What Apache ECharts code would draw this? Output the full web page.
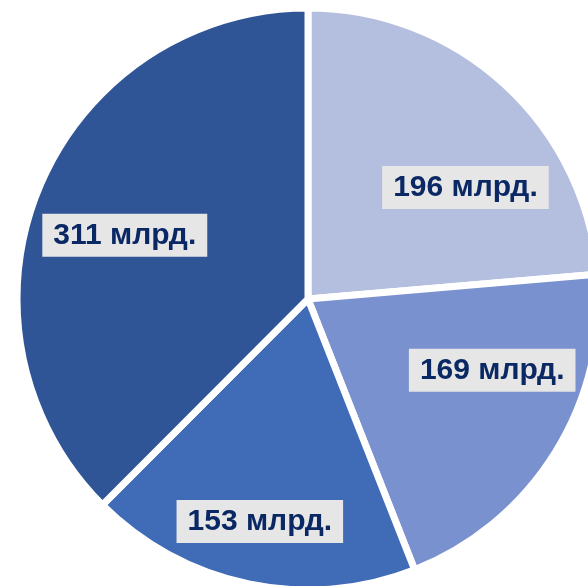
<!DOCTYPE html>
<html>
<head>
<meta charset="utf-8">
<style>
html,body{margin:0;padding:0;background:#fff;}
#c{width:588px;height:586px;}
</style>
<script src="https://cdn.jsdelivr.net/npm/echarts@6/dist/echarts.min.js"></script>
</head>
<body>
<div id="c"></div>
<script>
// Data
const values = [196, 169, 153, 311];
const labels = ['196 млрд.', '169 млрд.', '153 млрд.', '311 млрд.'];

// Styles (kept separate from data)
const colors = ['#b4bfe0', '#7a91cf', '#3f6bb7', '#2f5597'];
const labelOffsets = [[57, -2], [58, -7], [-18, 77], [-46, -7]];

const chart = echarts.init(document.getElementById('c'), null, {renderer: 'canvas'});
chart.setOption({
  animation: false,
  backgroundColor: '#ffffff',
  series: [{
    type: 'pie',
    center: [308, 299],
    radius: [0, 291],
    startAngle: 90,
    clockwise: true,
    avoidLabelOverlap: false,
    itemStyle: {borderColor: '#ffffff', borderWidth: 7},
    label: {
      show: true,
      position: 'inside',
      formatter: p => labels[p.dataIndex],
      fontFamily: '"Liberation Sans", Arial, sans-serif',
      fontWeight: 'bold',
      fontSize: 30,
      color: '#0a2864',
      backgroundColor: '#e6e6e6',
      padding: [7, 11, 6, 11]
    },
    labelLine: {show: false},
    emphasis: {disabled: true},
    data: values.map((v, i) => ({
      value: v,
      name: labels[i],
      itemStyle: {color: colors[i]},
      label: {offset: labelOffsets[i]}
    }))
  }]
});
</script>
</body>
</html>
